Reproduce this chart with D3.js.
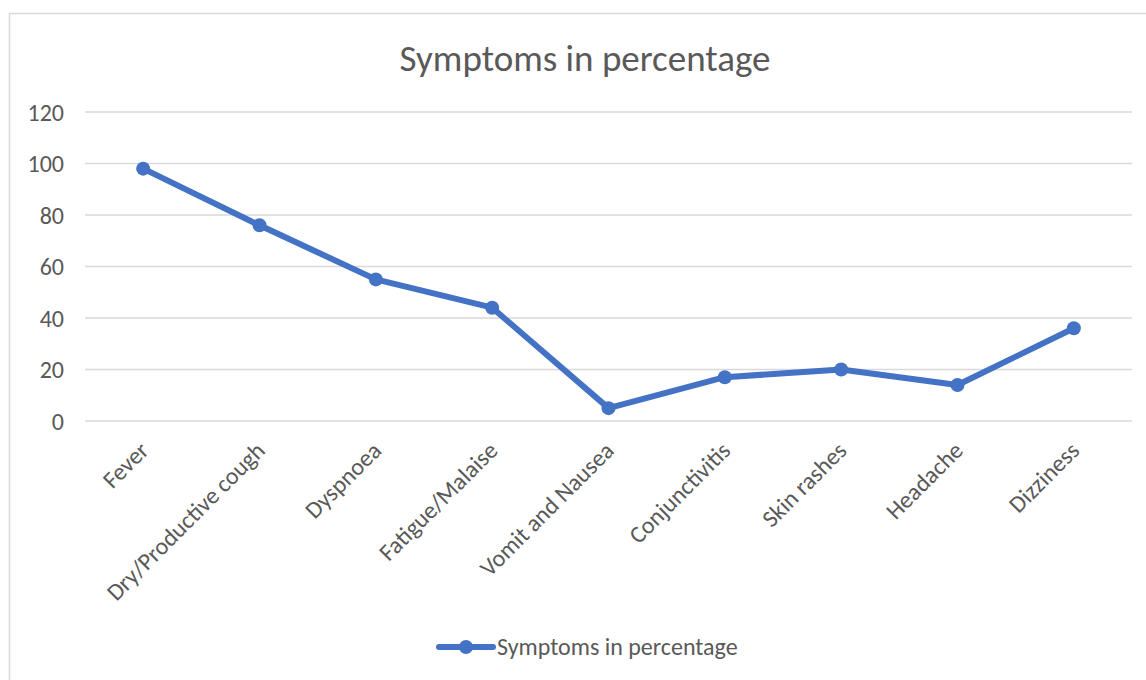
<!DOCTYPE html>
<html>
<head>
<meta charset="utf-8">
<script src="https://cdn.jsdelivr.net/npm/d3@7"></script>
<style>
  html, body { margin: 0; padding: 0; background: #fff; }
  svg { display: block; }
  text { font-family: Calibri, Carlito, "Open Sans", sans-serif; fill: #595959; }
</style>
</head>
<body>
<svg id="chart" width="1146" height="680"></svg>
<script>
// Symptom categories and the share of patients reporting each one
const categories = ["Fever", "Dry/Productive cough", "Dyspnoea", "Fatigue/Malaise",
  "Vomit and Nausea", "Conjunctivitis", "Skin rashes", "Headache", "Dizziness"];
const values = [98, 76, 55, 44, 5, 17, 20, 14, 36];
const yTicks = [0, 20, 40, 60, 80, 100, 120];
const seriesName = "Symptoms in percentage";
const chartTitle = "Symptoms in percentage";

const svg = d3.select("#chart");
const W = 1146, H = 680;
const margin = { left: 85, right: 14, top: 112, bottom: 259 };

// Chart frame
svg.append("rect")
  .attr("x", 9.5).attr("y", 13.5)
  .attr("width", 1150).attr("height", 700)
  .attr("fill", "#fff").attr("stroke", "#d9d9d9").attr("stroke-width", 1.5);

const x = d3.scaleBand()
  .domain(categories)
  .range([margin.left, W - margin.right]);

const y = d3.scaleLinear()
  .domain([0, 120])
  .range([H - margin.bottom, margin.top]);

// Horizontal gridlines
svg.append("g")
  .selectAll("line")
  .data(yTicks)
  .join("line")
  .attr("x1", margin.left).attr("x2", W - margin.right)
  .attr("y1", d => y(d)).attr("y2", d => y(d))
  .attr("stroke", "#d9d9d9").attr("stroke-width", 1.5);

// Y axis labels
const yAxis = svg.append("g")
  .attr("transform", `translate(${margin.left - 21},0)`)
  .call(d3.axisLeft(y).tickValues(yTicks).tickSize(0).tickPadding(0));
yAxis.select(".domain").remove();
yAxis.selectAll("text")
  .style("font-size", "24px")
  .attr("fill", "#595959")
  .attr("dy", "0.35em");

// X axis labels, rotated
const xAxis = svg.append("g")
  .attr("transform", `translate(0,${y(0)})`)
  .call(d3.axisBottom(x).tickSize(0).tickPadding(0));
xAxis.select(".domain").remove();
xAxis.selectAll(".tick text")
  .style("font-size", "24px")
  .attr("fill", "#595959")
  .attr("text-anchor", "end")
  .attr("dy", "0")
  .attr("transform", "translate(7,31) rotate(-45)");

// Title
svg.append("text")
  .attr("x", 585).attr("y", 71)
  .attr("text-anchor", "middle")
  .style("font-size", "37px")
  .text(chartTitle);

// Series line and markers
const color = "#4472C4";
const line = d3.line()
  .x((d, i) => x(categories[i]) + x.bandwidth() / 2)
  .y(d => y(d));

svg.append("path")
  .datum(values)
  .attr("d", line)
  .attr("fill", "none")
  .attr("stroke", color)
  .attr("stroke-width", 6)
  .attr("stroke-linejoin", "round")
  .attr("stroke-linecap", "round");

svg.append("g")
  .selectAll("circle")
  .data(values)
  .join("circle")
  .attr("cx", (d, i) => x(categories[i]) + x.bandwidth() / 2)
  .attr("cy", d => y(d))
  .attr("r", 7)
  .attr("fill", color);

// Legend
const lg = svg.append("g").attr("transform", "translate(439,647)");
lg.append("line")
  .attr("x1", 0).attr("x2", 54).attr("y1", 0).attr("y2", 0)
  .attr("stroke", color).attr("stroke-width", 6).attr("stroke-linecap", "round");
lg.append("circle").attr("cx", 27).attr("cy", 0).attr("r", 7).attr("fill", color);
lg.append("text")
  .attr("x", 58).attr("y", 0).attr("dy", "0.35em")
  .style("font-size", "24px")
  .text(seriesName);
</script>
</body>
</html>
